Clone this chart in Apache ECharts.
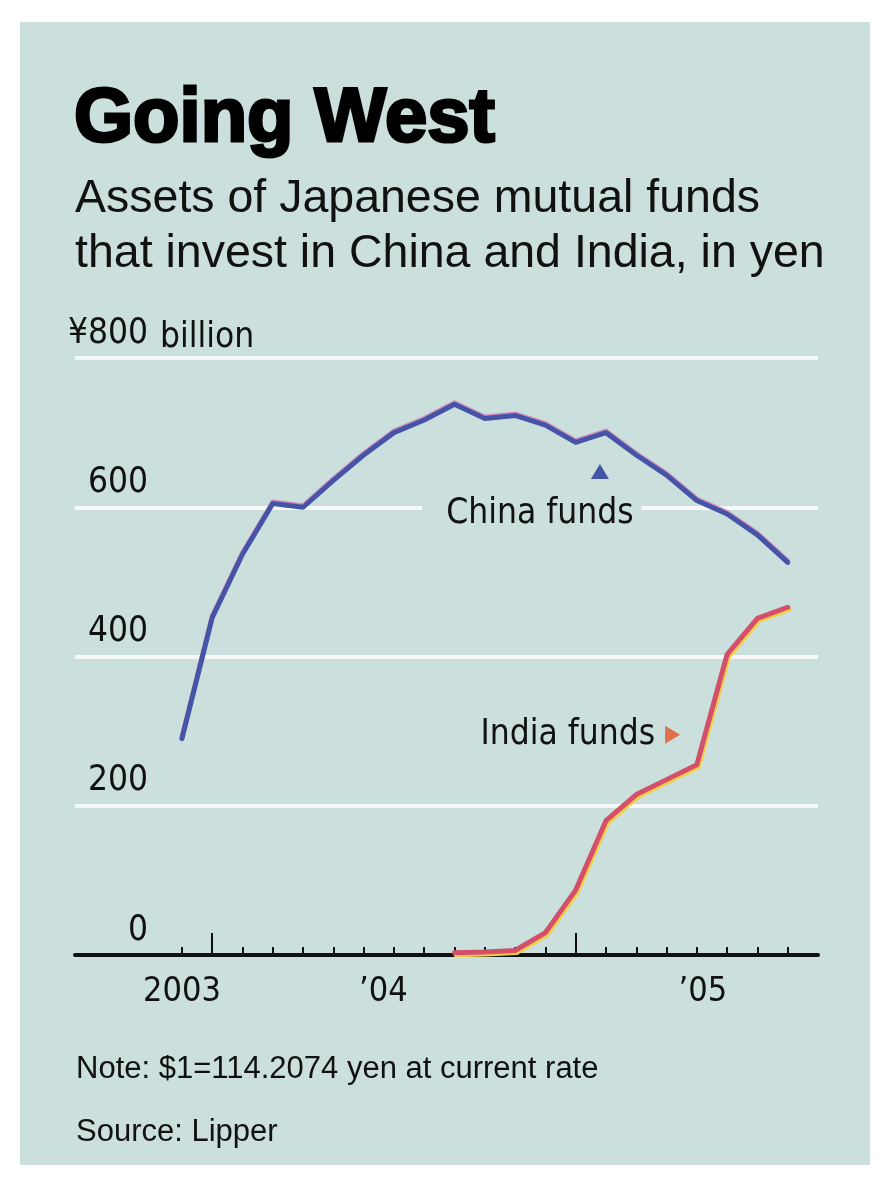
<!DOCTYPE html>
<html>
<head>
<meta charset="utf-8">
<title>Going West</title>
<script src="https://cdn.jsdelivr.net/npm/echarts@6/dist/echarts.min.js"></script>
<style>
  html, body { margin: 0; padding: 0; background: #fff; }
  #main { width: 884px; height: 1200px; }
</style>
</head>
<body>
<div id="main"></div>
<script>
// one entry per month, first month = late 2002 (billions of yen)
const chinaFunds = [290, 452, 537, 605, 600, 636, 670, 700, 717, 738, 719, 723, 710, 687, 700, 670, 643, 609, 591, 563, 526];
const indiaFunds = [null, null, null, null, null, null, null, null, null, 3, 4, 6, 30, 87, 180, 215, 235, 255, 403, 451, 466];
const yTicks = [0, 200, 400, 600, 800];
const yearLabels = ['2003', '\u201904', '\u201905'];
const yearLabelPos = [0, 6.65, 17.2];
const yearTicks = [1, 13];
const seriesNotes = ['China funds', 'India funds'];
const notePoints = [[13.8, 648], [16.2, 295]];

const panel = '#cbe0dc';
const chinaColor = '#4654a8';
const indiaColor = '#d4506a';
const narrow = "'Liberation Sans Narrow', 'DejaVu Sans Condensed', sans-serif";
const sans = "'Liberation Sans', Arial, sans-serif";

const monthTicks = chinaFunds.map((_, i) => i);
const toPoints = arr => arr.map((v, i) => [i, v]).filter(d => d[1] !== null);

const chart = echarts.init(document.getElementById('main'));

const option = {
  backgroundColor: '#fff',
  animation: false,
  graphic: [{
    type: 'rect',
    z: -100,
    silent: true,
    shape: { x: 20, y: 22, width: 850, height: 1143 },
    style: { fill: panel }
  }],
  title: [
    {
      text: 'Going West',
      left: 69, top: 77,
      textStyle: { fontFamily: sans, fontSize: 76, fontWeight: 'bold', color: '#000', textBorderColor: '#000', textBorderWidth: 3 }
    },
    {
      text: 'Assets of Japanese mutual funds\nthat invest in China and India, in yen',
      left: 70, top: 167,
      textStyle: { fontFamily: sans, fontSize: 46.5, fontWeight: 'normal', color: '#111', lineHeight: 55 }
    },
    {
      text: 'billion',
      left: 155, top: 315,
      textStyle: { fontFamily: narrow, fontSize: 35, fontWeight: 'normal', color: '#111' }
    },
    {
      text: 'Note: $1=114.2074 yen at current rate',
      left: 71, top: 1049,
      textStyle: { fontFamily: sans, fontSize: 31, fontWeight: 'normal', color: '#111' }
    },
    {
      text: 'Source: Lipper',
      left: 71, top: 1112,
      textStyle: { fontFamily: sans, fontSize: 31, fontWeight: 'normal', color: '#111' }
    }
  ],
  grid: { left: 75, right: 66, top: 358, bottom: 245 },
  xAxis: [
    {
      type: 'value',
      position: 'bottom',
      min: -3.53, max: 21,
      axisLine: { lineStyle: { color: '#111', width: 4 } },
      axisTick: { inside: true, length: 8, customValues: monthTicks, lineStyle: { color: '#111', width: 2 } },
      axisLabel: {
        customValues: yearLabelPos,
        margin: 20,
        fontFamily: narrow, fontSize: 34, color: '#111',
        formatter: v => {
          let k = 0;
          yearLabelPos.forEach((p, i) => { if (Math.abs(p - v) < Math.abs(yearLabelPos[k] - v)) k = i; });
          return yearLabels[k];
        }
      },
      splitLine: { show: false }
    },
    {
      type: 'value',
      position: 'bottom',
      min: -3.53, max: 21,
      axisLine: { show: false },
      axisTick: { inside: true, length: 22, customValues: yearTicks, lineStyle: { color: '#111', width: 2 } },
      axisLabel: { show: false },
      splitLine: { show: false }
    }
  ],
  yAxis: {
    type: 'value',
    min: yTicks[0], max: yTicks[yTicks.length - 1], interval: 200,
    axisLine: { show: false },
    axisTick: { show: false },
    splitLine: { lineStyle: { color: '#f6f9f7', width: 4 } },
    axisLabel: {
      inside: true, margin: 73, align: 'right', verticalAlign: 'bottom',
      padding: [0, 0, 7, 0],
      fontFamily: narrow, fontSize: 35, color: '#111',
      formatter: v => v === 800 ? '\u00a5800' : String(v)
    }
  },
  series: [
    {
      name: seriesNotes[0],
      type: 'line',
      data: toPoints(chinaFunds),
      showSymbol: false,
      lineStyle: { color: chinaColor, width: 5, join: 'round', cap: 'round', shadowColor: '#cf8fc0', shadowOffsetY: -1.5, shadowBlur: 0 },
      markPoint: {
        data: [{
          coord: notePoints[0],
          symbol: 'triangle',
          symbolSize: [18, 15],
          itemStyle: { color: chinaColor },
          label: {
            show: true, formatter: seriesNotes[0], position: 'inside', offset: [-68, 42],
            fontFamily: narrow, fontSize: 35, color: '#111',
            backgroundColor: panel, padding: [6, 8, 6, 24]
          }
        }]
      }
    },
    {
      name: seriesNotes[1],
      type: 'line',
      data: toPoints(indiaFunds),
      showSymbol: false,
      lineStyle: { color: indiaColor, width: 5, join: 'round', cap: 'round', shadowColor: '#f0cf45', shadowOffsetX: 1.5, shadowOffsetY: 2, shadowBlur: 0 },
      markPoint: {
        data: [{
          coord: notePoints[1],
          symbol: 'triangle',
          symbolRotate: -90,
          symbolSize: [18, 15],
          itemStyle: { color: '#e0704e' },
          label: {
            show: true, formatter: seriesNotes[1], position: 'left', distance: 10,
            fontFamily: narrow, fontSize: 35, color: '#111'
          }
        }]
      }
    }
  ]
};

chart.setOption(option);
window.addEventListener('resize', () => chart.resize());
</script>
</body>
</html>
